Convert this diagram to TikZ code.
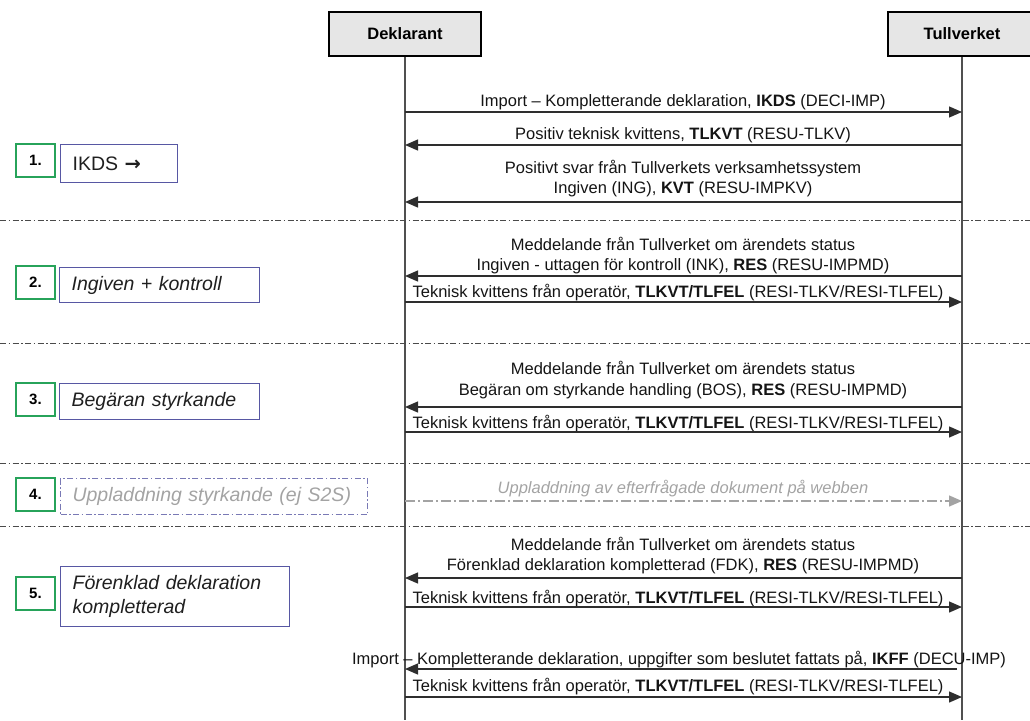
\documentclass[tikz,border=0pt]{standalone}
\usepackage{fontspec}
\setmainfont{Liberation Sans}
\newfontfamily\arrowfont{DejaVu Sans}
\usetikzlibrary{arrows.meta}
\definecolor{lineC}{HTML}{2E2E2E}
\definecolor{lifeC}{HTML}{505050}
\definecolor{sepC}{HTML}{4A4A4A}
\definecolor{greenC}{HTML}{27A35A}
\definecolor{purpC}{HTML}{5757A3}
\definecolor{greyT}{HTML}{A3A3A3}
\definecolor{boxFill}{HTML}{E6E6E6}
\begin{document}
\begin{tikzpicture}[x=1pt,y=-1pt,
 actor/.style={draw=black, line width=2pt, fill=boxFill, minimum width=152pt, minimum height=44pt, inner sep=0pt, font=\fontsize{16.5}{19}\selectfont\bfseries},
 life/.style={draw=lifeC, line width=1.4pt},
 msg/.style={draw=lineC, line width=1.3pt, -{Triangle[length=13pt,width=11pt]}},
 grmsg/.style={draw=greyT, line width=1.3pt, dash pattern=on 10pt off 3pt on 2pt off 3pt, -{Triangle[length=13pt,width=11pt,fill=greyT]}},
 lbl/.style={anchor=base, inner sep=0pt, font=\fontsize{16.5}{20}\selectfont, text=black!92},
 grlbl/.style={anchor=base, inner sep=0pt, font=\fontsize{16.5}{20}\selectfont\itshape, text=greyT},
 sep/.style={draw=sepC, line width=1pt, dash pattern=on 6pt off 2.5pt on 1.5pt off 2.5pt},
 numbox/.style={draw=greenC, line width=2pt, minimum width=39pt, minimum height=33pt, inner sep=0pt, font=\fontsize{15}{18}\selectfont\bfseries},
 stepbox/.style={draw=purpC, line width=1.2pt, anchor=north west, inner xsep=12pt, inner ysep=0pt, align=left, font=\fontsize{19.5}{24}\selectfont\itshape, text=black!88}
]
\useasboundingbox (0,0) rectangle (1030,720);

% actors
\node[actor] (dek) at (405,34) {Deklarant};
\node[actor, minimum width=148pt] (tull) at (962,34) {Tullverket};
\coordinate (dekB) at (405,720);
\coordinate (tullB) at (962,720);
\draw[life] (dek.south) -- (dekB);
\draw[life] (tull.south) -- (tullB);

% separators
\foreach \i/\yy in {1/220,2/343,3/463,4/526}{
  \coordinate (sepL\i) at (0,\yy);
  \coordinate (sepR\i) at (1030,\yy);
  \draw[sep] (sepL\i) -- (sepR\i);
}

% lifeline points for messages
\foreach \i/\yy in {1/112,2/145,3/202,4/276,5/302,6/407,7/432,8/501,9/578,10/607,11/669,12/697}{
  \coordinate (d\i) at (405,\yy);
  \coordinate (t\i) at (962,\yy);
}
\coordinate (t11s) at (957,669);

% section 1
\node[lbl] (m1) at (683,106) {Import – Kompletterande deklaration, \textbf{IKDS} (DECI-IMP)};
\draw[msg] (d1) -- (t1);
\node[lbl] (m2) at (683,139) {Positiv teknisk kvittens, \textbf{TLKVT} (RESU-TLKV)};
\draw[msg] (t2) -- (d2);
\node[lbl] (m3a) at (683,173) {Positivt svar från Tullverkets verksamhetssystem};
\node[lbl] (m3b) at (683,193) {Ingiven (ING), \textbf{KVT} (RESU-IMPKV)};
\draw[msg] (t3) -- (d3);

% section 2
\node[lbl] (m4a) at (683,250) {Meddelande från Tullverket om ärendets status};
\node[lbl] (m4b) at (683,270) {Ingiven - uttagen för kontroll (INK), \textbf{RES} (RESU-IMPMD)};
\draw[msg] (t4) -- (d4);
\node[lbl] (m5) at (678,297) {Teknisk kvittens från operatör, \textbf{TLKVT/TLFEL} (RESI-TLKV/RESI-TLFEL)};
\draw[msg] (d5) -- (t5);

% section 3
\node[lbl] (m6a) at (683,374) {Meddelande från Tullverket om ärendets status};
\node[lbl] (m6b) at (683,395) {Begäran om styrkande handling (BOS), \textbf{RES} (RESU-IMPMD)};
\draw[msg] (t6) -- (d6);
\node[lbl] (m7) at (678,428) {Teknisk kvittens från operatör, \textbf{TLKVT/TLFEL} (RESI-TLKV/RESI-TLFEL)};
\draw[msg] (d7) -- (t7);

% section 4
\node[grlbl] (m8) at (683,493) {Uppladdning av efterfrågade dokument på webben};
\draw[grmsg] (d8) -- (t8);

% section 5
\node[lbl] (m9a) at (683,550) {Meddelande från Tullverket om ärendets status};
\node[lbl] (m9b) at (683,570) {Förenklad deklaration kompletterad (FDK), \textbf{RES} (RESU-IMPMD)};
\draw[msg] (t9) -- (d9);
\node[lbl] (m10) at (678,603) {Teknisk kvittens från operatör, \textbf{TLKVT/TLFEL} (RESI-TLKV/RESI-TLFEL)};
\draw[msg] (d10) -- (t10);
\node[lbl] (m11) at (679,664) {Import – Kompletterande deklaration, uppgifter som beslutet fattats på, \textbf{IKFF} (DECU-IMP)};
\draw[msg] (t11s) -- (d11);
\node[lbl] (m12) at (678,691) {Teknisk kvittens från operatör, \textbf{TLKVT/TLFEL} (RESI-TLKV/RESI-TLFEL)};
\draw[msg] (d12) -- (t12);

% left step labels
\node[numbox] (n1) at (35.5,160.5) {1.};
\node[stepbox, minimum width=117pt, minimum height=38pt, text width=93pt, font=\fontsize{19.5}{24}\selectfont] (s1) at (60,144) {IKDS {\arrowfont\bfseries →}};

\node[numbox] (n2) at (35.5,282) {2.};
\node[stepbox, minimum width=200pt, minimum height=35pt, text width=176pt] (s2) at (59,267) {Ingiven + kontroll};

\node[numbox] (n3) at (35.5,399) {3.};
\node[stepbox, minimum width=200pt, minimum height=36pt, text width=176pt] (s3) at (59,383) {Begäran styrkande};

\node[numbox] (n4) at (35.5,494.5) {4.};
\node[stepbox, draw=purpC!80, line width=1pt, dash pattern=on 6pt off 2.5pt on 1.5pt off 2.5pt, text=greyT, minimum width=307pt, minimum height=36pt, text width=283pt] (s4) at (60,478) {Uppladdning styrkande (ej S2S)};

\node[numbox] (n5) at (35.5,593.5) {5.};
\node[stepbox, minimum width=229pt, minimum height=60pt, text width=205pt] (s5) at (60,566) {Förenklad deklaration\\kompletterad};
\end{tikzpicture}
\end{document}
